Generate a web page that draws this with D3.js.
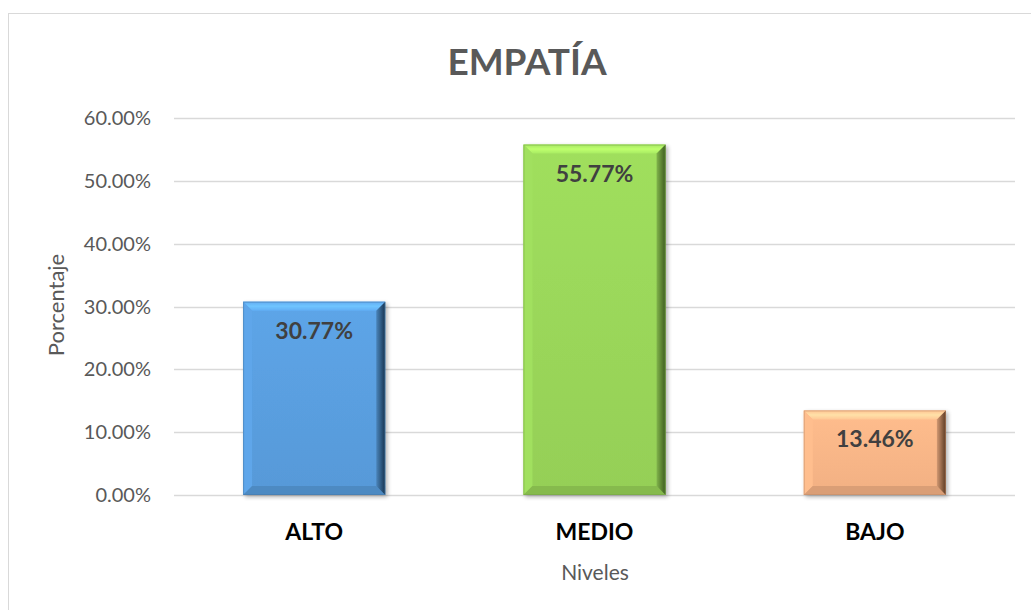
<!DOCTYPE html>
<html>
<head>
<meta charset="utf-8">
<script src="https://cdn.jsdelivr.net/npm/d3@7"></script>
<style>
  body { margin: 0; background: #fff; }
  svg { display: block; font-family: Lato, "Open Sans", sans-serif; }
</style>
</head>
<body>
<div id="chart"></div>
<script>
// Chart data
const categories = ['ALTO', 'MEDIO', 'BAJO'];
const values = [30.77, 55.77, 13.46];
const barColors = ['#5a9fe0', '#9ad75a', '#fbb688'];
const edgeDark = ['#173450', '#3d5a1f', '#5a3a24'];
const yTicks = [0, 10, 20, 30, 40, 50, 60];

const width = 1031, height = 610;
const margin = { left: 174, right: 16, top: 118, bottom: 115 };

const svg = d3.select('#chart').append('svg')
    .attr('width', width)
    .attr('height', height);

// Outer chart frame
svg.append('rect')
    .attr('x', 8.5).attr('y', 13.5)
    .attr('width', 1040).attr('height', 620)
    .attr('fill', '#fff')
    .attr('stroke', '#d9d9d9');

const x = d3.scaleBand()
    .domain(categories)
    .range([margin.left, width - margin.right])
    .paddingInner(0.493)
    .paddingOuter(0.2465);

const y = d3.scaleLinear()
    .domain([0, 60])
    .range([height - margin.bottom, margin.top]);

// Gridlines
svg.append('g')
    .selectAll('line')
    .data(yTicks)
    .enter().append('line')
    .attr('x1', margin.left).attr('x2', width - margin.right)
    .attr('y1', d => Math.round(y(d)) + 0.5)
    .attr('y2', d => Math.round(y(d)) + 0.5)
    .attr('stroke', '#d9d9d9')
    .attr('stroke-width', 1.3);

// Y tick labels
svg.append('g')
    .selectAll('text')
    .data(yTicks)
    .enter().append('text')
    .attr('x', margin.left - 23)
    .attr('y', d => y(d))
    .attr('dy', '0.35em')
    .attr('text-anchor', 'end')
    .attr('fill', '#595959')
    .style('font-size', '20px')
    .text(d => d.toFixed(2) + '%');

const defs = svg.append('defs');
const shadow = defs.append('filter').attr('id', 'shadow')
    .attr('x', '-10%').attr('y', '-10%').attr('width', '130%').attr('height', '130%');
shadow.append('feGaussianBlur').attr('in', 'SourceAlpha').attr('stdDeviation', 2);
shadow.append('feOffset').attr('dx', 2).attr('dy', 2).attr('result', 'blur');
shadow.append('feComponentTransfer').append('feFuncA').attr('type', 'linear').attr('slope', 0.3);
const merge = shadow.append('feMerge');
merge.append('feMergeNode');
merge.append('feMergeNode').attr('in', 'SourceGraphic');

// Bars with bevel edges
const bev = 9;
const bars = svg.append('g')
    .selectAll('g')
    .data(values)
    .enter().append('g')
    .attr('filter', 'url(#shadow)');

bars.each(function(v, i) {
    const g = d3.select(this);
    const x0 = x(categories[i]), x1 = x0 + x.bandwidth();
    const y0 = y(v), y1 = y(0);
    const base = d3.color(barColors[i]);

    // soft vertical shading of the face
    const faceId = 'face' + i;
    const fg = defs.append('linearGradient').attr('id', faceId)
        .attr('x1', 0).attr('x2', 0).attr('y1', 0).attr('y2', 1);
    fg.append('stop').attr('offset', 0).attr('stop-color', base.brighter(0.1));
    fg.append('stop').attr('offset', 1).attr('stop-color', base.darker(0.1));

    g.append('rect')
        .attr('x', x0).attr('y', y0)
        .attr('width', x1 - x0).attr('height', y1 - y0)
        .attr('fill', `url(#${faceId})`);

    const poly = (pts, fill) => g.append('polygon')
        .attr('points', pts.map(p => p.join(',')).join(' '))
        .attr('fill', fill);

    // top bevel
    const topId = 'tg' + i;
    const tg = defs.append('linearGradient').attr('id', topId)
        .attr('x1', 0).attr('x2', 0).attr('y1', 0).attr('y2', 1);
    tg.append('stop').attr('offset', 0).attr('stop-color', base.brighter(0.2));
    tg.append('stop').attr('offset', 0.5).attr('stop-color', base.brighter(0.6));
    tg.append('stop').attr('offset', 1).attr('stop-color', base.brighter(0.25));
    poly([[x0, y0], [x1, y0], [x1 - bev, y0 + bev], [x0 + bev, y0 + bev]], `url(#${topId})`);
    // left bevel
    poly([[x0, y0], [x0 + bev, y0 + bev], [x0 + bev, y1 - bev], [x0, y1]], base.brighter(0.12));
    // bottom bevel
    poly([[x0, y1], [x0 + bev, y1 - bev], [x1 - bev, y1 - bev], [x1, y1]], base.darker(0.4));
    // right bevel
    const gradId = 'rg' + i;
    const lg = defs.append('linearGradient').attr('id', gradId)
        .attr('x1', 0).attr('x2', 1).attr('y1', 0).attr('y2', 0);
    lg.append('stop').attr('offset', 0).attr('stop-color', base.darker(0.5));
    lg.append('stop').attr('offset', 1).attr('stop-color', edgeDark[i]);
    poly([[x1, y0], [x1, y1], [x1 - bev, y1 - bev], [x1 - bev, y0 + bev]], `url(#${gradId})`);

    g.append('rect')
        .attr('x', x0 + 0.5).attr('y', y0 + 0.5)
        .attr('width', x1 - x0 - 1).attr('height', y1 - y0 - 1)
        .attr('fill', 'none')
        .attr('stroke', base.darker(0.8))
        .attr('stroke-opacity', 0.5);
});

// Value labels
svg.append('g')
    .selectAll('text')
    .data(values)
    .enter().append('text')
    .attr('x', (d, i) => x(categories[i]) + x.bandwidth() / 2)
    .attr('y', d => y(d) + 37)
    .attr('text-anchor', 'middle')
    .attr('fill', '#404040')
    .style('font-size', '23px')
    .style('font-weight', '700')
    .text(d => d.toFixed(2) + '%');

// Category labels
svg.append('g')
    .selectAll('text')
    .data(categories)
    .enter().append('text')
    .attr('x', d => x(d) + x.bandwidth() / 2)
    .attr('y', 540)
    .attr('text-anchor', 'middle')
    .attr('fill', '#000')
    .style('font-size', '23px')
    .style('font-weight', '700')
    .text(d => d);

// Title
svg.append('text')
    .attr('x', 527).attr('y', 75)
    .attr('text-anchor', 'middle')
    .attr('fill', '#595959')
    .style('font-size', '37px')
    .style('font-weight', '700')
    .text('EMPATÍA');

// Axis titles
svg.append('text')
    .attr('x', 595).attr('y', 580)
    .attr('text-anchor', 'middle')
    .attr('fill', '#595959')
    .style('font-size', '21px')
    .text('Niveles');

svg.append('text')
    .attr('transform', 'translate(64,305) rotate(-90)')
    .attr('text-anchor', 'middle')
    .attr('fill', '#595959')
    .style('font-size', '22px')
    .text('Porcentaje');
</script>
</body>
</html>
